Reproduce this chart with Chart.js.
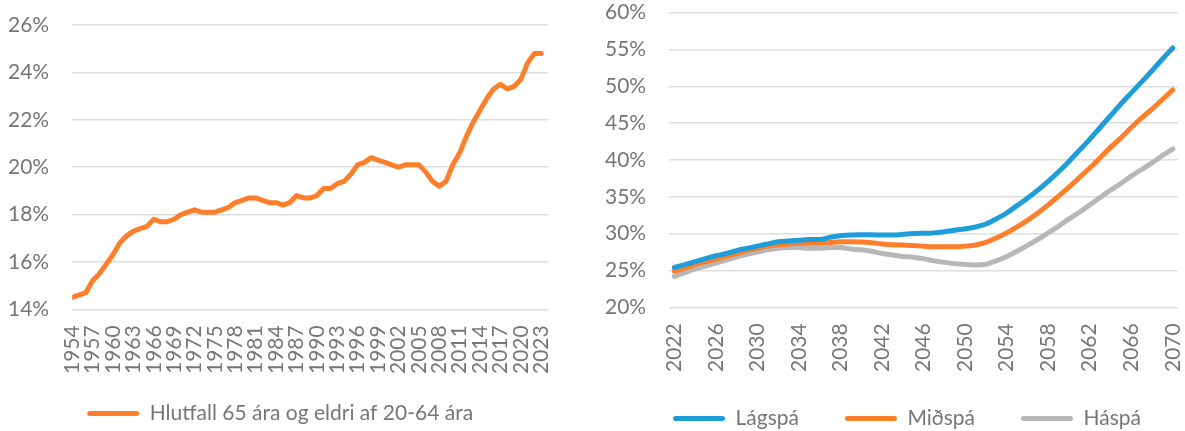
<!DOCTYPE html>
<html>
<head>
<meta charset="utf-8">
<script src="https://cdn.jsdelivr.net/npm/chart.js@4"></script>
<style>
    body { margin: 0; background: #ffffff; overflow: hidden; }
    #wrap { position: relative; width: 1185px; height: 431px; overflow: hidden; }
    #left-chart { position: absolute; left: 0; top: 0; }
    #right-chart { position: absolute; left: 590px; top: 0; }
</style>
</head>
<body>
<div id="wrap">
    <canvas id="left-chart" width="590" height="434"></canvas>
    <canvas id="right-chart" width="619" height="439"></canvas>
</div>
<script>
// Historical ratio, 1954-2023
const histYears = [];
for (let y = 1954; y <= 2023; y++) histYears.push(y);
const histLabel = "Hlutfall 65 ára og eldri af 20-64 ára";
const histValues = [
    14.5, 14.6, 14.7, 15.2, 15.5, 15.9, 16.3, 16.8, 17.1, 17.3,
    17.4, 17.5, 17.8, 17.7, 17.7, 17.8, 18.0, 18.1, 18.2, 18.1,
    18.1, 18.1, 18.2, 18.3, 18.5, 18.6, 18.7, 18.7, 18.6, 18.5,
    18.5, 18.4, 18.5, 18.8, 18.7, 18.7, 18.8, 19.1, 19.1, 19.3,
    19.4, 19.7, 20.1, 20.2, 20.4, 20.3, 20.2, 20.1, 20.0, 20.1,
    20.1, 20.1, 19.8, 19.4, 19.2, 19.4, 20.1, 20.6, 21.3, 21.9,
    22.4, 22.9, 23.3, 23.5, 23.3, 23.4, 23.7, 24.4, 24.8, 24.8
];
const histTicks = [14, 16, 18, 20, 22, 24, 26];

// Projections, 2022-2070
const projYears = [];
for (let y = 2022; y <= 2070; y++) projYears.push(String(y));
const projNames = ["Lágspá", "Miðspá", "Háspá"];
const lowValues = [
    25.4, 25.8, 26.2, 26.6, 27.0, 27.3, 27.7, 28.0, 28.3, 28.6,
    28.9, 29.0, 29.1, 29.2, 29.2, 29.5, 29.7, 29.8, 29.85, 29.85,
    29.8, 29.8, 29.9, 30.0, 30.05, 30.1, 30.25, 30.45, 30.65, 30.9,
    31.3, 32.0, 32.8, 33.8, 34.8, 35.9, 37.1, 38.4, 39.8, 41.3,
    42.8, 44.4, 46.0, 47.6, 49.1, 50.6, 52.1, 53.7, 55.2
];
const midValues = [
    24.9, 25.3, 25.8, 26.2, 26.5, 26.9, 27.3, 27.7, 28.0, 28.3,
    28.5, 28.6, 28.7, 28.7, 28.7, 28.8, 28.9, 28.9, 28.85, 28.75,
    28.6, 28.5, 28.45, 28.4, 28.3, 28.2, 28.2, 28.2, 28.3, 28.45,
    28.8, 29.4, 30.1, 30.9, 31.8, 32.8, 33.9, 35.1, 36.3, 37.6,
    38.9, 40.3, 41.7, 43.0, 44.4, 45.7, 46.9, 48.2, 49.5
];
const highValues = [
    24.2, 24.7, 25.2, 25.6, 26.0, 26.4, 26.8, 27.2, 27.5, 27.8,
    28.0, 28.1, 28.1, 28.0, 28.0, 28.1, 28.1, 27.9, 27.8, 27.6,
    27.3, 27.1, 26.9, 26.8, 26.6, 26.3, 26.1, 25.9, 25.8, 25.75,
    25.85, 26.3, 26.9, 27.6, 28.4, 29.2, 30.1, 31.0, 32.0, 32.9,
    33.9, 34.9, 35.9, 36.8, 37.8, 38.7, 39.6, 40.6, 41.5
];

const orange = "#fd7f2b";
const blue = "#1f9dd9";
const grey = "#b7b7b7";
const textGrey = "#767676";
const gridGrey = "#dedede";

Chart.defaults.font.family = "Lato";
Chart.defaults.font.size = 21;
Chart.defaults.color = textGrey;

// legend items drawn as short thick lines
function lineLegendItems(chart) {
    return chart.data.datasets.map(function (ds, i) {
        return {
            text: ds.label,
            fillStyle: ds.borderColor,
            strokeStyle: ds.borderColor,
            lineWidth: 0,
            borderRadius: 2.5,
            fontColor: textGrey,
            datasetIndex: i
        };
    });
}

// wide gaps between legend items without a tall legend box
const legendGap = {
    id: "legendGap",
    afterInit: function (chart, args, opts) {
        const legend = chart.legend;
        const fit = legend.fit;
        legend.fit = function () {
            fit.call(this);
            this.height -= opts.shrink || 0;
        };
    },
    afterLayout: function (chart, args, opts) {
        chart.legend.top -= opts.shrink || 0;
    }
};

// Left chart
new Chart(document.getElementById("left-chart").getContext("2d"), {
    type: "line",
    data: {
        datasets: [{
            label: histLabel,
            data: histYears.map(function (y, i) { return { x: y, y: histValues[i] }; }),
            borderColor: orange,
            backgroundColor: orange,
            borderWidth: 5,
            pointRadius: 0,
            tension: 0,
            borderCapStyle: "round",
            borderJoinStyle: "round"
        }]
    },
    options: {
        responsive: false,
        animation: false,
        layout: { padding: { top: 25, right: 42, left: 8, bottom: 0 } },
        plugins: {
            tooltip: { enabled: false },
            legend: {
                position: "bottom",
                align: "start",
                fullSize: false,
                labels: {
                    boxWidth: 52,
                    boxHeight: 5,
                    useBorderRadius: true,
                    padding: 15,
                    generateLabels: lineLegendItems
                }
            }
        },
        scales: {
            x: {
                type: "linear",
                min: 1954,
                max: 2024,
                afterBuildTicks: function (scale) {
                    scale.ticks = histYears.filter(function (y) { return (y - 1954) % 3 === 0; })
                        .map(function (y) { return { value: y }; });
                },
                grid: { display: true, drawOnChartArea: false, tickLength: 2, tickColor: "rgba(0,0,0,0)" },
                border: { display: false },
                ticks: {
                    autoSkip: false,
                    minRotation: 90,
                    maxRotation: 90,
                    padding: 14,
                    callback: function (v) { return String(v); }
                }
            },
            y: {
                min: 14,
                max: 26,
                afterBuildTicks: function (scale) {
                    scale.ticks = histTicks.map(function (v) { return { value: v }; });
                },
                grid: { color: gridGrey, lineWidth: 1.5, tickLength: 23, tickColor: "rgba(0,0,0,0)" },
                border: { display: false },
                ticks: {
                    padding: 0,
                    callback: function (v) { return v + "%"; }
                }
            }
        }
    }
});

// Right chart
function projSet(label, values, color) {
    return {
        label: label,
        data: values,
        borderColor: color,
        backgroundColor: color,
        borderWidth: 5,
        pointRadius: 0,
        cubicInterpolationMode: "monotone",
        borderCapStyle: "round",
        borderJoinStyle: "round"
    };
}

new Chart(document.getElementById("right-chart").getContext("2d"), {
    type: "line",
    data: {
        labels: projYears,
        datasets: [
            projSet(projNames[0], lowValues, blue),
            projSet(projNames[1], midValues, orange),
            projSet(projNames[2], highValues, grey)
        ]
    },
    plugins: [legendGap],
    options: {
        responsive: false,
        animation: false,
        layout: { padding: { top: 0, right: 0, left: 15, bottom: 0 } },
        plugins: {
            tooltip: { enabled: false },
            legendGap: { shrink: 21 },
            legend: {
                position: "bottom",
                labels: {
                    boxWidth: 52,
                    boxHeight: 5,
                    useBorderRadius: true,
                    padding: 46,
                    generateLabels: lineLegendItems
                }
            }
        },
        scales: {
            x: {
                offset: true,
                grid: { display: true, drawOnChartArea: false, tickLength: 5, tickColor: "rgba(0,0,0,0)" },
                border: { display: false },
                ticks: {
                    autoSkip: false,
                    minRotation: 90,
                    maxRotation: 90,
                    padding: 11,
                    callback: function (v, i) { return i % 4 === 0 ? projYears[i] : ""; }
                }
            },
            y: {
                min: 20,
                max: 60,
                ticks: {
                    stepSize: 5,
                    padding: 0,
                    callback: function (v) { return v + "%"; }
                },
                grid: { color: gridGrey, lineWidth: 1.5, tickLength: 23, tickColor: "rgba(0,0,0,0)" },
                border: { display: false }
            }
        }
    }
});
</script>
</body>
</html>
